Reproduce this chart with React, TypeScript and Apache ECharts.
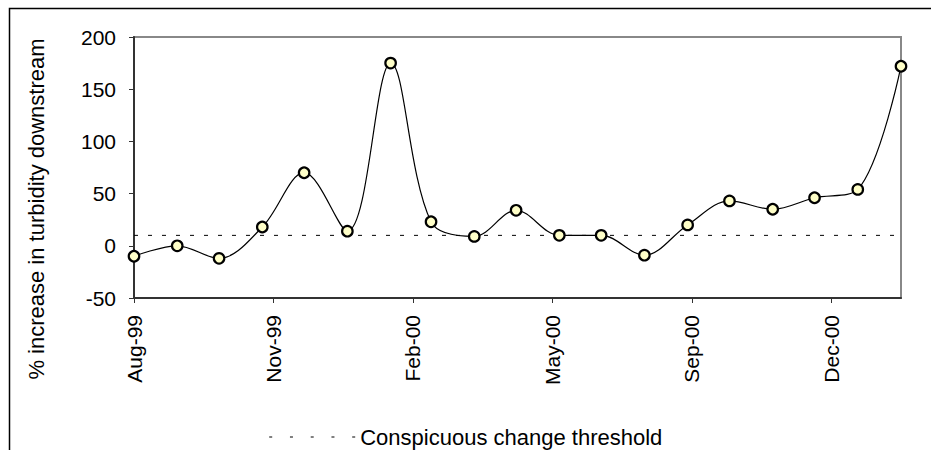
import React, { useEffect, useRef } from 'react';
import * as echarts from 'echarts';

// monthly sampling dates and % increase in turbidity downstream
const sampleDates = [
    '1999-08-01', '1999-09-01', '1999-10-01', '1999-11-01', '1999-12-01',
    '2000-01-01', '2000-02-01', '2000-03-01', '2000-04-01', '2000-05-01',
    '2000-06-01', '2000-07-01', '2000-08-01', '2000-09-01', '2000-10-01',
    '2000-11-01', '2000-12-01', '2001-01-01', '2001-02-01',
];
const turbidityIncrease = [-10, 0, -12, 18, 70, 14, 175, 23, 9, 34, 10, 10, -9, 20, 43, 35, 46, 54, 172];
const thresholdValue = 10;

// Excel date axis: major unit 100 days from the first sample
const tickDays = [0, 100, 200, 300, 400, 500];
const tickLabels = ['Aug-99', 'Nov-99', 'Feb-00', 'May-00', 'Sep-00', 'Dec-00'];

const DAY = 86400000;
const startTime = Date.parse(sampleDates[0]);
const dayOffsets = sampleDates.map((d) => (Date.parse(d) - startTime) / DAY);
const lastDay = dayOffsets[dayOffsets.length - 1];

const FONT = '"Liberation Sans", Arial, sans-serif';

const App = () => {
    const chartRef = useRef<HTMLDivElement>(null);

    useEffect(() => {
        if (!chartRef.current) return;
        const myChart = echarts.init(chartRef.current, null, { renderer: 'svg' });

        const option: echarts.EChartsOption = {
            animation: false,
            textStyle: { fontFamily: FONT, color: '#000' },
            grid: {
                left: 134,
                right: 30,
                top: 37,
                bottom: 152,
                show: true,
                borderColor: '#888',
                borderWidth: 2,
            },
            legend: {
                data: ['Conspicuous change threshold'],
                left: 'center',
                top: 421,
                itemWidth: 86,
                itemHeight: 14,
                itemGap: 5,
                textStyle: { fontSize: 22, fontFamily: FONT, color: '#000' },
                itemStyle: { opacity: 0 },
                lineStyle: { type: [3, 17.75], width: 1, color: '#000' },
            },
            xAxis: {
                type: 'value',
                min: 0,
                max: lastDay,
                interval: 100,
                axisLine: { onZero: false, lineStyle: { color: '#333', width: 2 } },
                axisTick: {
                    show: true,
                    length: 5,
                    customValues: tickDays,
                    lineStyle: { color: '#333', width: 1 },
                },
                axisLabel: {
                    rotate: 90,
                    margin: 17,
                    fontSize: 21,
                    fontFamily: FONT,
                    color: '#000',
                    customValues: tickDays,
                    formatter: (v: number) => {
                        const i = tickDays.indexOf(v);
                        return i >= 0 ? tickLabels[i] : '';
                    },
                },
                splitLine: { show: false },
            },
            yAxis: {
                type: 'value',
                min: -50,
                max: 200,
                interval: 50,
                axisLine: { show: true, onZero: false, lineStyle: { color: '#333', width: 2 } },
                axisTick: { show: true, length: 5, lineStyle: { color: '#333', width: 1 } },
                axisLabel: { margin: 18, fontSize: 21, fontFamily: FONT, color: '#000' },
                splitLine: { show: false },
            },
            graphic: [
                {
                    type: 'rect',
                    shape: { x: 9.5, y: 8.5, width: 1200, height: 1000 },
                    style: { fill: 'none', stroke: '#000', lineWidth: 1.5 },
                    silent: true,
                    z: -1,
                },
                {
                    type: 'text',
                    x: 36,
                    y: 209,
                    rotation: Math.PI / 2,
                    style: {
                        text: '% increase in turbidity downstream',
                        fontSize: 22,
                        fontFamily: FONT,
                        fill: '#000',
                        align: 'center',
                        verticalAlign: 'middle',
                    },
                },
            ],
            series: [
                {
                    name: 'Conspicuous change threshold',
                    type: 'line',
                    data: [[0, thresholdValue], [lastDay, thresholdValue]],
                    symbol: 'none',
                    itemStyle: { color: '#000' },
                    lineStyle: { color: '#000', width: 1, type: [4, 10] },
                    z: 1,
                },
                {
                    name: 'Turbidity',
                    type: 'line',
                    data: dayOffsets.map((d, i) => [d, turbidityIncrease[i]]),
                    smooth: 0.35,
                    symbol: 'circle',
                    symbolSize: 10.5,
                    lineStyle: { color: '#000', width: 1.2 },
                    itemStyle: { color: '#FFFFC8', borderColor: '#000', borderWidth: 2.2 },
                    z: 3,
                },
            ],
        };

        myChart.setOption(option);

        return () => {
            myChart.dispose();
        };
    }, []);

    return (
        <div
            ref={chartRef}
            style={{ position: 'absolute', left: 0, top: 0, width: '931px', height: '450px' }}
        ></div>
    );
};

export default App;
